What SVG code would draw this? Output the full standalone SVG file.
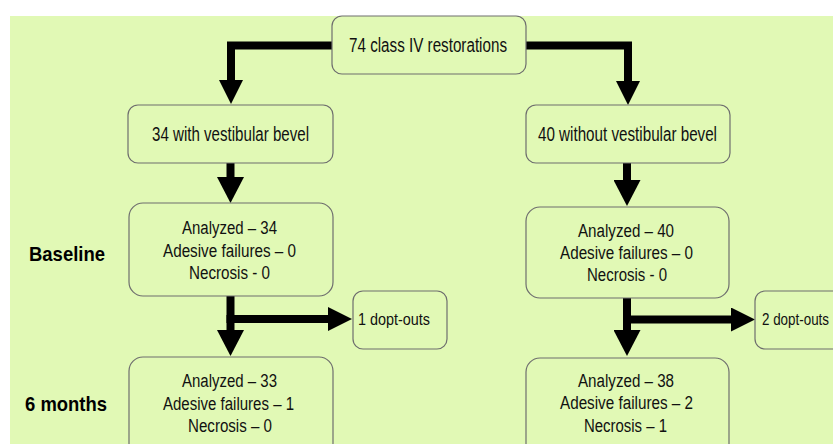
<svg xmlns="http://www.w3.org/2000/svg" width="833" height="444" viewBox="0 0 833 444">
<defs>
<style>
.bg{fill:#e1f9b5}
.box{fill:#e1f9b5;stroke:#6e6e6e;stroke-width:1.2}
.t{font-family:"Liberation Sans Narrow","Liberation Sans",Arial,sans-serif;font-size:18px;fill:#111}
.h{font-size:19.5px}
.d{font-size:17px}
.lbl{font-family:"Liberation Sans Narrow","Liberation Sans",Arial,sans-serif;font-size:20.5px;font-weight:bold;fill:#000}
.con{fill:none;stroke:#000;stroke-width:8;stroke-linejoin:miter}
</style>
<marker id="ahS" markerUnits="userSpaceOnUse" markerWidth="24" markerHeight="24" refX="0" refY="12" orient="auto" viewBox="0 0 24 24">
<path d="M0,0 L24,12 L0,24 Z" fill="#000"/>
</marker>
<marker id="ahL" markerUnits="userSpaceOnUse" markerWidth="26" markerHeight="27" refX="0" refY="13.5" orient="auto" viewBox="0 0 26 27">
<path d="M0,0 L26,13.5 L0,27 Z" fill="#000"/>
</marker>
</defs>
<rect class="bg" x="10" y="16" width="823" height="428"/>
<g id="connectors">
<path class="con" d="M332,45.5 H231 V80" marker-end="url(#ahS)"/>
<path class="con" d="M526,45.5 H628 V81" marker-end="url(#ahS)"/>
<path class="con" d="M230.5,163 V177" marker-end="url(#ahL)"/>
<path class="con" d="M627,162 V180" marker-end="url(#ahL)"/>
<path class="con" d="M230.5,296 V330" marker-end="url(#ahL)"/>
<path class="con" d="M226.5,319 H328" marker-end="url(#ahS)"/>
<path class="con" d="M627,297 V330" marker-end="url(#ahL)"/>
<path class="con" d="M623,319.5 H731" marker-end="url(#ahS)"/>
</g>
<g id="top">
<rect class="box" x="332" y="16" width="194" height="58" rx="10"/>
<text class="t h" x="349" y="52" textLength="158" lengthAdjust="spacingAndGlyphs">74 class IV restorations</text>
</g>
<g id="with-bevel">
<rect class="box" x="128" y="105" width="205" height="58" rx="10"/>
<text class="t h" x="152" y="141" textLength="157" lengthAdjust="spacingAndGlyphs">34 with vestibular bevel</text>
</g>
<g id="without-bevel">
<rect class="box" x="526" y="105" width="204" height="58" rx="10"/>
<text class="t h" x="538" y="141" textLength="179" lengthAdjust="spacingAndGlyphs">40 without vestibular bevel</text>
</g>
<g id="baseline-label">
<text class="lbl" x="29" y="261" textLength="76" lengthAdjust="spacingAndGlyphs">Baseline</text>
</g>
<g id="baseline-left">
<rect class="box" x="129" y="203" width="204" height="93" rx="14"/>
<text class="t" x="182" y="234" textLength="95" lengthAdjust="spacingAndGlyphs">Analyzed – 34</text>
<text class="t" x="163" y="257" textLength="133" lengthAdjust="spacingAndGlyphs">Adesive failures – 0</text>
<text class="t" x="189" y="279" textLength="81" lengthAdjust="spacingAndGlyphs">Necrosis - 0</text>
</g>
<g id="baseline-right">
<rect class="box" x="526" y="207" width="203" height="91" rx="14"/>
<text class="t" x="578" y="237" textLength="96" lengthAdjust="spacingAndGlyphs">Analyzed – 40</text>
<text class="t" x="560" y="259" textLength="133" lengthAdjust="spacingAndGlyphs">Adesive failures – 0</text>
<text class="t" x="587" y="281" textLength="80" lengthAdjust="spacingAndGlyphs">Necrosis - 0</text>
</g>
<g id="dropout-left">
<rect class="box" x="353" y="291" width="94" height="58" rx="10"/>
<text class="t d" x="358" y="325" textLength="72" lengthAdjust="spacingAndGlyphs">1 dopt-outs</text>
</g>
<g id="dropout-right">
<rect class="box" x="755" y="291" width="94" height="58" rx="10"/>
<text class="t d" x="762" y="325" textLength="67" lengthAdjust="spacingAndGlyphs">2 dopt-outs</text>
</g>
<g id="six-months-label">
<text class="lbl" x="25" y="411" textLength="82" lengthAdjust="spacingAndGlyphs">6 months</text>
</g>
<g id="six-left">
<rect class="box" x="129" y="357" width="204" height="100" rx="14"/>
<text class="t" x="182" y="387" textLength="95" lengthAdjust="spacingAndGlyphs">Analyzed – 33</text>
<text class="t" x="163" y="410" textLength="131" lengthAdjust="spacingAndGlyphs">Adesive failures – 1</text>
<text class="t" x="188" y="432" textLength="84" lengthAdjust="spacingAndGlyphs">Necrosis – 0</text>
</g>
<g id="six-right">
<rect class="box" x="526" y="358" width="203" height="100" rx="14"/>
<text class="t" x="578" y="387" textLength="96" lengthAdjust="spacingAndGlyphs">Analyzed – 38</text>
<text class="t" x="560" y="409" textLength="133" lengthAdjust="spacingAndGlyphs">Adesive failures – 2</text>
<text class="t" x="584" y="432" textLength="83" lengthAdjust="spacingAndGlyphs">Necrosis – 1</text>
</g>
</svg>
